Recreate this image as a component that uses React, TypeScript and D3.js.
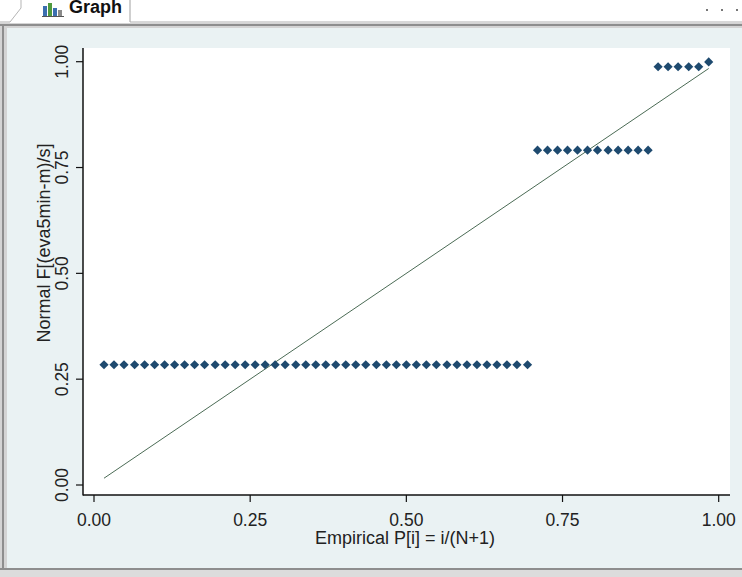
import React from "react";
import * as d3 from "d3";

// Empirical P[i] = i/(N+1), N = 61
const empiricalP: number[] = [
  0.016, 0.032, 0.048, 0.065, 0.081, 0.097, 0.113, 0.129, 0.145, 0.161,
  0.177, 0.194, 0.21, 0.226, 0.242, 0.258, 0.274, 0.29, 0.306, 0.323,
  0.339, 0.355, 0.371, 0.387, 0.403, 0.419, 0.435, 0.452, 0.468, 0.484,
  0.5, 0.516, 0.532, 0.548, 0.565, 0.581, 0.597, 0.613, 0.629, 0.645,
  0.661, 0.677, 0.694,
  0.71, 0.726, 0.742, 0.758, 0.774, 0.79, 0.806, 0.823, 0.839, 0.855,
  0.871, 0.887,
  0.903, 0.919, 0.935, 0.952, 0.968,
  0.984,
];

// Normal F[(eva5min-m)/s]
const normalF: number[] = [
  0.284, 0.284, 0.284, 0.284, 0.284, 0.284, 0.284, 0.284, 0.284, 0.284,
  0.284, 0.284, 0.284, 0.284, 0.284, 0.284, 0.284, 0.284, 0.284, 0.284,
  0.284, 0.284, 0.284, 0.284, 0.284, 0.284, 0.284, 0.284, 0.284, 0.284,
  0.284, 0.284, 0.284, 0.284, 0.284, 0.284, 0.284, 0.284, 0.284, 0.284,
  0.284, 0.284, 0.284,
  0.791, 0.791, 0.791, 0.791, 0.791, 0.791, 0.791, 0.791, 0.791, 0.791,
  0.791, 0.791,
  0.988, 0.988, 0.988, 0.988, 0.988,
  0.9995,
];

const xTicks: number[] = [0, 0.25, 0.5, 0.75, 1];
const yTicks: number[] = [0, 0.25, 0.5, 0.75, 1];
const xTitle = "Empirical P[i] = i/(N+1)";
const yTitle = "Normal F[(eva5min-m)/s]";
const tabLabel = "Graph";

const W = 742;
const H = 577;

export default function App() {
  const x = d3.scaleLinear().domain([0, 1]).range([94, 718.7]);
  const y = d3.scaleLinear().domain([0, 1]).range([485, 61.7]);
  const fmt = d3.format(".2f");
  const plotL = 83, plotR = 730, plotT = 48, plotB = 495;

  const pts = empiricalP.map((p, i) => ({ p, f: normalF[i] }));
  const diag = [empiricalP[0], empiricalP[empiricalP.length - 1]];
  const linePath = d3
    .line<number>()
    .x((d) => x(d))
    .y((d) => y(d))(diag) as string;
  const sym = d3.symbol().type(d3.symbolSquare).size(42)() as string;

  const font = "'Liberation Sans', Arial, sans-serif";

  return (
    <svg
      width={W}
      height={H}
      style={{ position: "absolute", left: 0, top: 0, display: "block" }}
      fontFamily={font}
    >
      {/* window chrome */}
      <rect x={0} y={0} width={W} height={H} fill="#ffffff" />
      <rect x={0} y={23} width={W} height={H - 23} fill="#d4d4d4" />
      <path d="M10,22 L21,8 L21,0" fill="none" stroke="#b5b5b5" />
      <line x1={130} y1={0} x2={130} y2={22} stroke="#a0a0a0" />
      <line x1={130} y1={22} x2={W} y2={22} stroke="#b0b0b0" />
      <line x1={0} y1={22} x2={10} y2={22} stroke="#b0b0b0" />
      <g>
        <rect x={43} y={6} width={4} height={10} fill="#3b6fb0" />
        <rect x={48} y={3} width={4} height={13} fill="#4f9a3e" />
        <rect x={53} y={8} width={4} height={8} fill="#3b6fb0" />
        <rect x={58} y={10} width={4} height={6} fill="#8a8a8a" />
        <line x1={42} y1={16.5} x2={64} y2={16.5} stroke="#555" />
      </g>
      <text x={69} y={13} fontSize={18} fontWeight="bold" fill="#111">
        {tabLabel}
      </text>
      <g fill="#777">
        <rect x={706} y={9} width={2} height={2} />
        <rect x={721} y={9} width={2} height={2} />
        <rect x={736} y={9} width={2} height={2} />
      </g>
      <rect x={0} y={24} width={W} height={2} fill="#8e8e8e" />
      <rect x={2} y={24} width={2} height={546} fill="#8e8e8e" />
      <rect x={0} y={568} width={W} height={2} fill="#8e8e8e" />
      <rect x={0} y={570} width={W} height={7} fill="#dcdcdc" />

      {/* graph background */}
      <rect x={7} y={28} width={W - 7} height={540} fill="#eaf2f3" />
      <rect x={plotL} y={plotT} width={plotR - plotL} height={plotB - plotT} fill="#ffffff" />

      {/* data */}
      <path d={linePath} fill="none" stroke="#4b6b55" strokeWidth={1} />
      {pts.map((d, i) => (
        <path
          key={i}
          d={sym}
          transform={`translate(${x(d.p)},${y(d.f)}) rotate(45)`}
          fill="#1e4a6f"
        />
      ))}

      {/* axes */}
      <line x1={plotL} y1={plotT} x2={plotL} y2={plotB + 0.5} stroke="#111" strokeWidth={1.5} />
      <line x1={plotL} y1={plotB} x2={plotR} y2={plotB} stroke="#111" strokeWidth={1.5} />
      {yTicks.map((t) => (
        <g key={"y" + t}>
          <line x1={plotL - 7} x2={plotL} y1={y(t)} y2={y(t)} stroke="#111" strokeWidth={1.2} />
          <text
            transform={`translate(68,${y(t)}) rotate(-90)`}
            textAnchor="middle"
            fontSize={17.5}
            fill="#222"
          >
            {fmt(t)}
          </text>
        </g>
      ))}
      {xTicks.map((t) => (
        <g key={"x" + t}>
          <line x1={x(t)} x2={x(t)} y1={plotB} y2={plotB + 7} stroke="#111" strokeWidth={1.2} />
          <text x={x(t)} y={526} textAnchor="middle" fontSize={17.5} fill="#222">
            {fmt(t)}
          </text>
        </g>
      ))}
      <text x={405} y={544} textAnchor="middle" fontSize={18} fill="#222">
        {xTitle}
      </text>
      <text
        transform={`translate(50,243) rotate(-90)`}
        textAnchor="middle"
        fontSize={18}
        fill="#222"
      >
        {yTitle}
      </text>
    </svg>
  );
}
